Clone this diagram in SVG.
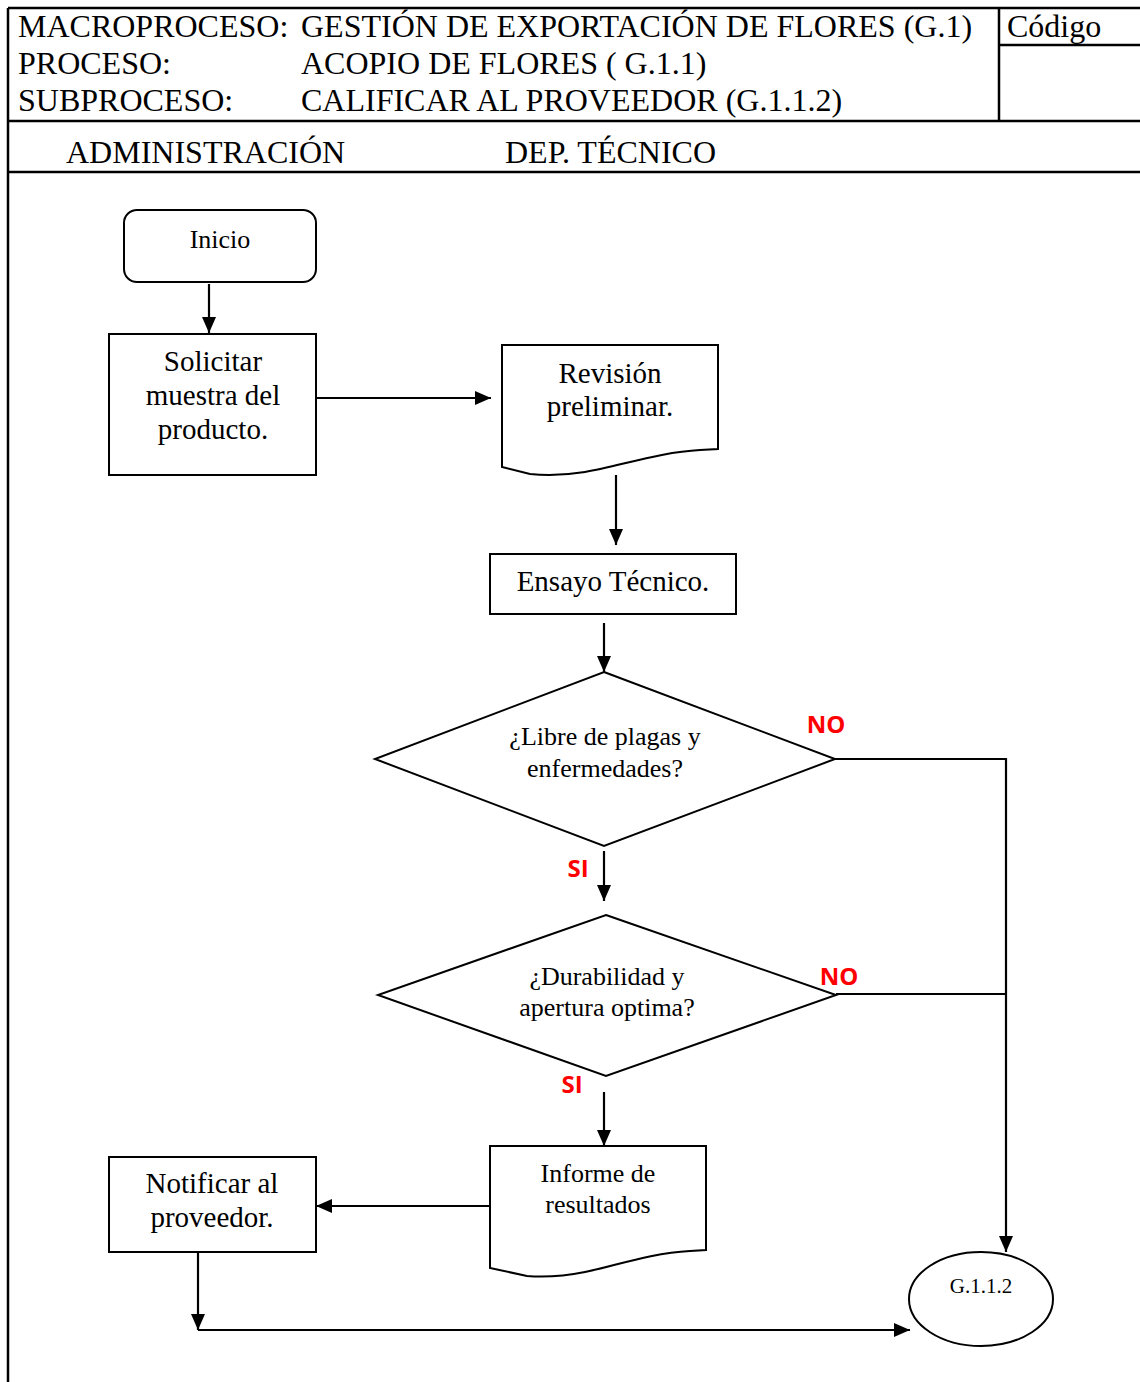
<svg xmlns="http://www.w3.org/2000/svg" width="1140" height="1382" viewBox="0 0 1140 1382">
  <style>
    .frame { stroke: #000; stroke-width: 2.5; fill: none; }
    .shape { stroke: #000; stroke-width: 2; fill: #fff; }
    .conn { stroke: #000; stroke-width: 2.2; fill: none; }
    .hdr { font-family: "Liberation Serif", "Times New Roman", serif; font-size: 32px; fill: #000; }
    .lbl { font-family: "Liberation Serif", "Times New Roman", serif; font-size: 29px; fill: #000; text-anchor: middle; }
    .q { font-family: "Liberation Serif", "Times New Roman", serif; font-size: 26px; fill: #000; text-anchor: middle; }
    .yn { font-family: "Open Sans", "Noto Sans", sans-serif; font-size: 24px; font-weight: bold; fill: #ff0000; text-anchor: middle; }
  </style>
  <defs>
    <marker id="head" viewBox="0 0 16 16" refX="16" refY="8" markerWidth="16" markerHeight="16" markerUnits="userSpaceOnUse" orient="auto">
      <path d="M0,1 L16,8 L0,15 Z" fill="#000"/>
    </marker>
  </defs>

  <rect width="1140" height="1382" fill="#fff"/>

  <!-- header table -->
  <g id="header">
    <line class="frame" x1="8" y1="8" x2="1140" y2="8"/>
    <line class="frame" x1="8" y1="8" x2="8" y2="1382"/>
    <line class="frame" x1="999" y1="8" x2="999" y2="121"/>
    <line class="frame" x1="999" y1="45" x2="1140" y2="45"/>
    <line class="frame" x1="8" y1="121" x2="1140" y2="121"/>
    <line class="frame" x1="8" y1="172" x2="1140" y2="172"/>
    <text class="hdr" x="18" y="37">MACROPROCESO:</text>
    <text class="hdr" x="301" y="37">GESTIÓN DE EXPORTACIÓN DE FLORES (G.1)</text>
    <text class="hdr" x="18" y="74">PROCESO:</text>
    <text class="hdr" x="301" y="74">ACOPIO DE FLORES ( G.1.1)</text>
    <text class="hdr" x="18" y="111">SUBPROCESO:</text>
    <text class="hdr" x="301" y="111">CALIFICAR AL PROVEEDOR (G.1.1.2)</text>
    <text class="hdr" x="1007" y="37">Código</text>
    <text class="hdr" x="66" y="163">ADMINISTRACIÓN</text>
    <text class="hdr" x="505" y="163">DEP. TÉCNICO</text>
  </g>

  <!-- connectors -->
  <g id="connectors">
    <line class="conn" x1="209" y1="284" x2="209" y2="333" marker-end="url(#head)"/>
    <line class="conn" x1="316" y1="398" x2="491" y2="398" marker-end="url(#head)"/>
    <line class="conn" x1="616" y1="475" x2="616" y2="545" marker-end="url(#head)"/>
    <line class="conn" x1="604" y1="623" x2="604" y2="672" marker-end="url(#head)"/>
    <polyline class="conn" points="835,759 1006,759 1006,1252" marker-end="url(#head)"/>
    <line class="conn" x1="604" y1="851" x2="604" y2="901" marker-end="url(#head)"/>
    <line class="conn" x1="836" y1="994" x2="1006" y2="994"/>
    <line class="conn" x1="604" y1="1092" x2="604" y2="1146" marker-end="url(#head)"/>
    <line class="conn" x1="490" y1="1206" x2="316" y2="1206" marker-end="url(#head)"/>
    <line class="conn" x1="198" y1="1252" x2="198" y2="1330" marker-end="url(#head)"/>
    <line class="conn" x1="198" y1="1330" x2="910" y2="1330" marker-end="url(#head)"/>
    <text class="yn" x="826" y="733">NO</text>
    <text class="yn" x="578" y="877">SI</text>
    <text class="yn" x="839" y="985">NO</text>
    <text class="yn" x="572" y="1093">SI</text>
  </g>

  <g id="inicio">
    <rect class="shape" x="124" y="210" width="192" height="72" rx="13"/>
    <text class="q" x="220" y="248">Inicio</text>
  </g>

  <g id="solicitar">
    <rect class="shape" x="109" y="334" width="207" height="141"/>
    <text class="lbl" x="213" y="371">Solicitar</text>
    <text class="lbl" x="213" y="405">muestra del</text>
    <text class="lbl" x="213" y="439">producto.</text>
  </g>

  <g id="revision">
    <path class="shape" d="M502,345 H718 V449 L700,450 C660,452 620,466 585,472 C560,476 540,475 530,474 L502,467 Z"/>
    <text class="lbl" x="610" y="383">Revisión</text>
    <text class="lbl" x="610" y="416">preliminar.</text>
  </g>

  <g id="ensayo">
    <rect class="shape" x="490" y="554" width="246" height="60"/>
    <text class="lbl" x="613" y="591">Ensayo Técnico.</text>
  </g>

  <g id="decision-plagas">
    <polygon class="shape" points="604,672 835,759 604,846 375,759"/>
    <text class="q" x="605" y="745">¿Libre de plagas y</text>
    <text class="q" x="605" y="777">enfermedades?</text>
  </g>

  <g id="decision-durabilidad">
    <polygon class="shape" points="606,915 836,995 606,1076 378,995"/>
    <text class="q" x="607" y="985">¿Durabilidad y</text>
    <text class="q" x="607" y="1016">apertura optima?</text>
  </g>

  <g id="informe">
    <path class="shape" d="M490,1146 H706 V1250 L690,1251 C650,1253 615,1266 585,1272 C560,1277 540,1277 527,1276 L490,1268 Z"/>
    <text class="q" x="598" y="1182">Informe de</text>
    <text class="q" x="598" y="1213">resultados</text>
  </g>

  <g id="notificar">
    <rect class="shape" x="109" y="1157" width="207" height="95"/>
    <text class="lbl" x="212" y="1193">Notificar al</text>
    <text class="lbl" x="212" y="1227">proveedor.</text>
  </g>

  <g id="conector-g112">
    <ellipse class="shape" cx="981" cy="1299" rx="72" ry="47"/>
    <text class="q" x="981" y="1293" style="font-size:21px">G.1.1.2</text>
  </g>
</svg>
